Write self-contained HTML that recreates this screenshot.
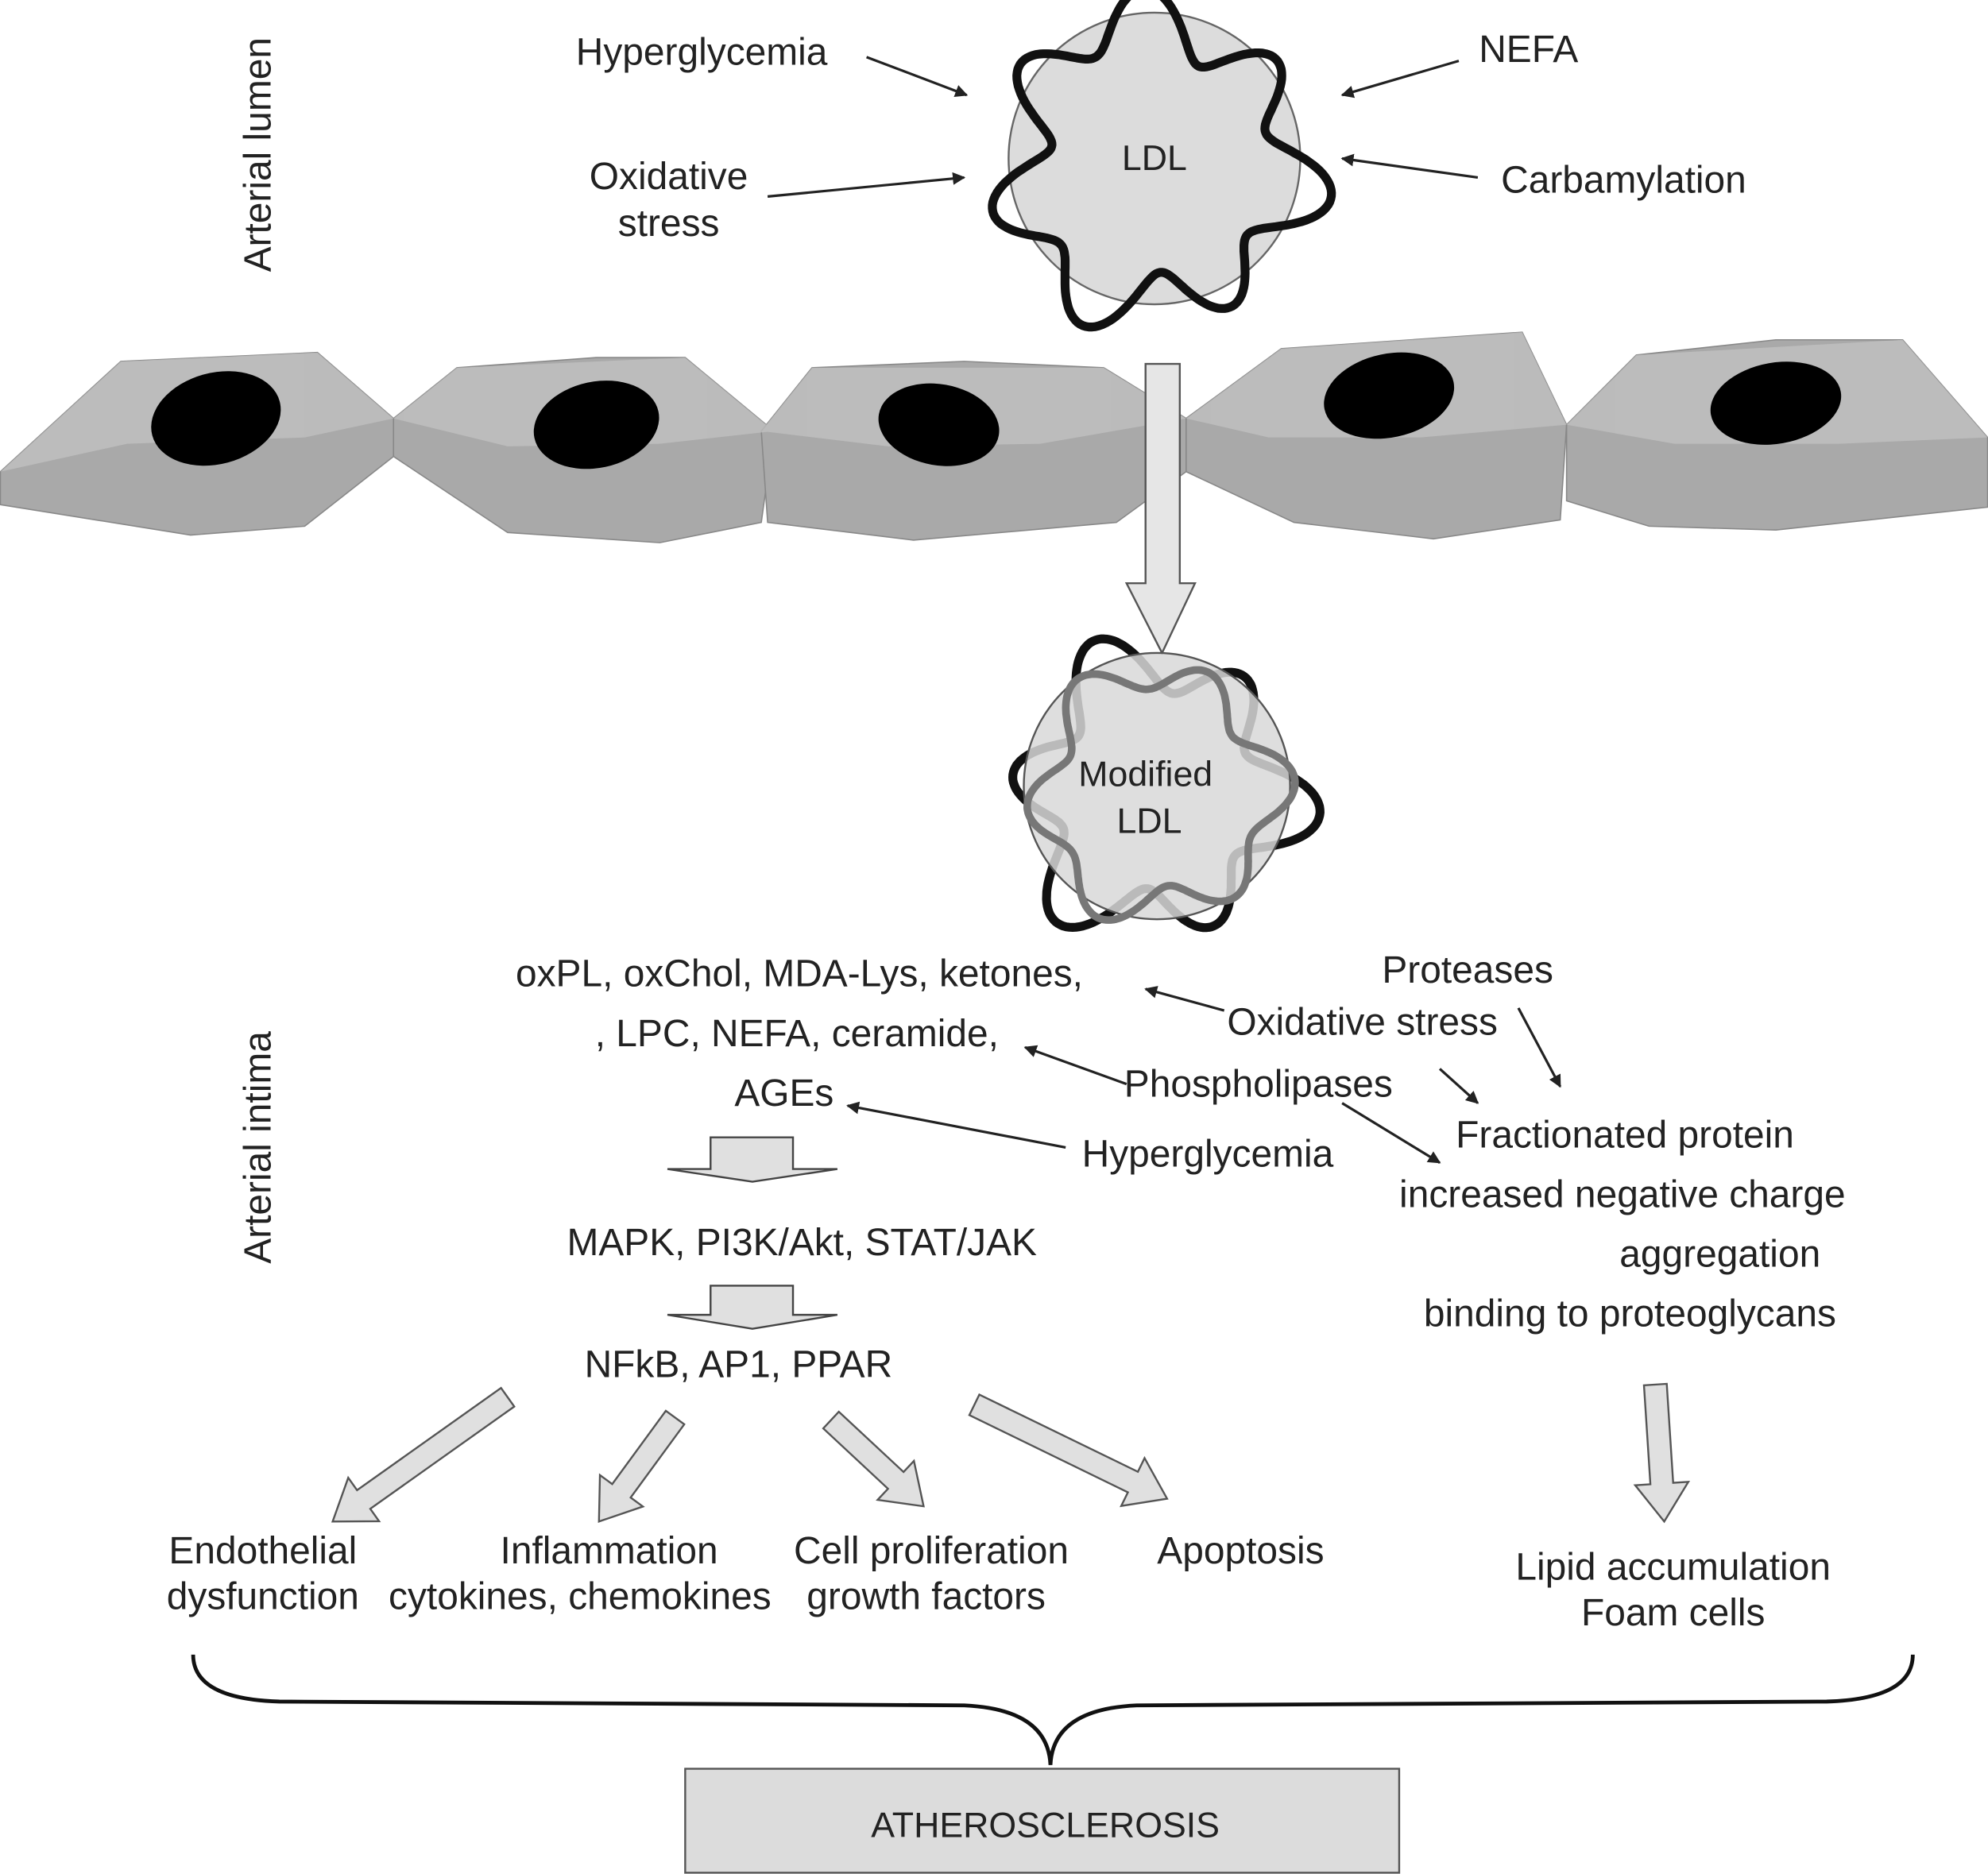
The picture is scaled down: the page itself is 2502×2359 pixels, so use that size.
<!DOCTYPE html>
<html><head><meta charset="utf-8"><style>
html,body{margin:0;padding:0;background:#fff}
svg{display:block}
text{font-family:"Liberation Sans",sans-serif;fill:#222}
</style></head><body>
<svg id="s" width="2502" height="2359" viewBox="0 0 1567 1478" xmlns="http://www.w3.org/2000/svg">
<defs>
<marker id="ah" markerWidth="10" markerHeight="10" refX="9" refY="5" orient="auto" markerUnits="userSpaceOnUse"><path d="M0,0 L10,5 L0,10 z" fill="#222"/></marker>
</defs>
<text x="0" y="0" font-size="30" transform="translate(213,122) rotate(-90)" text-anchor="middle">Arterial lumen</text>
<text x="0" y="0" font-size="30" transform="translate(213,905) rotate(-90)" text-anchor="middle">Arterial intima</text>

<circle cx="910" cy="125" r="115" fill="#dcdcdc" stroke="#666" stroke-width="1.5"/>
<path id="w1" fill="none" stroke="#111" stroke-width="7" stroke-linejoin="round"/>
<text x="910" y="134" font-size="28" text-anchor="middle">LDL</text>

<text x="553" y="51" font-size="30" text-anchor="middle">Hyperglycemia</text>
<line x1="683" y1="45" x2="762" y2="75" stroke="#222" stroke-width="2" marker-end="url(#ah)"/>
<text x="527" y="149" font-size="30" text-anchor="middle">Oxidative</text>
<text x="527" y="186" font-size="30" text-anchor="middle">stress</text>
<line x1="605" y1="155" x2="760" y2="140" stroke="#222" stroke-width="2" marker-end="url(#ah)"/>
<text x="1205" y="49" font-size="30" text-anchor="middle">NEFA</text>
<line x1="1150" y1="48" x2="1058" y2="75" stroke="#222" stroke-width="2" marker-end="url(#ah)"/>
<text x="1280" y="152" font-size="30" text-anchor="middle">Carbamylation</text>
<line x1="1165" y1="140" x2="1058" y2="125" stroke="#222" stroke-width="2" marker-end="url(#ah)"/>

<g fill="#a9a9a9" stroke="#888" stroke-width="1">
<polygon points="0,372 95,285 250,278 310,330 310,360 240,415 150,422 0,398"/>
<polygon points="310,330 360,290 470,282 540,282 610,340 600,412 520,428 400,420 310,360"/>
<polygon points="600,340 640,290 760,285 870,290 935,330 935,372 880,412 720,426 605,412"/>
<polygon points="935,330 1010,275 1200,262 1235,335 1230,410 1130,425 1020,412 935,372"/>
<polygon points="1235,335 1290,280 1400,268 1500,268 1567,345 1567,400 1400,418 1300,415 1235,395"/>
</g>
<g fill="#c4c4c4" opacity="0.7">
<polygon points="0,372 95,285 250,278 310,330 240,345 100,350"/>
<polygon points="310,330 360,290 540,282 610,340 520,350 400,352"/>
<polygon points="600,340 640,290 870,290 935,330 820,350 700,352"/>
<polygon points="935,330 1010,275 1200,262 1235,335 1120,345 1000,345"/>
<polygon points="1235,335 1290,280 1500,268 1567,345 1450,350 1320,350"/>
</g>
<g fill="#000">
<ellipse cx="170" cy="330" rx="52" ry="36" transform="rotate(-15 170 330)"/>
<ellipse cx="470" cy="335" rx="50" ry="34" transform="rotate(-12 470 335)"/>
<ellipse cx="740" cy="335" rx="48" ry="32" transform="rotate(10 740 335)"/>
<ellipse cx="1095" cy="312" rx="52" ry="33" transform="rotate(-12 1095 312)"/>
<ellipse cx="1400" cy="318" rx="52" ry="32" transform="rotate(-10 1400 318)"/>
</g>

<polygon points="903,287 930,287 930,460 942,460 916,515 888,460 903,460" fill="#e6e6e6" stroke="#555" stroke-width="1.5"/>

<path id="w2b" fill="none" stroke="#111" stroke-width="7" stroke-linejoin="round"/>
<circle cx="912" cy="620" r="105" fill="#d8d8d8" fill-opacity="0.85" stroke="#555" stroke-width="1.5"/>
<path id="w2" fill="none" stroke="#777" stroke-width="6" stroke-linejoin="round"/>
<text x="903" y="620" font-size="28" text-anchor="middle">Modified</text>
<text x="906" y="657" font-size="28" text-anchor="middle">LDL</text>

<g font-size="30">
<text x="630" y="778" text-anchor="middle">oxPL,  oxChol, MDA-Lys, ketones,</text>
<text x="628" y="825" text-anchor="middle">, LPC, NEFA, ceramide,</text>
<text x="618" y="872" text-anchor="middle">AGEs</text>
<text x="632" y="990" text-anchor="middle">MAPK,  PI3K/Akt, STAT/JAK</text>
<text x="582" y="1086" text-anchor="middle">NFkB,  AP1, PPAR</text>
<text x="1157" y="775" text-anchor="middle">Proteases</text>
<text x="1074" y="816" text-anchor="middle">Oxidative stress</text>
<text x="992" y="865" text-anchor="middle">Phospholipases</text>
<text x="952" y="920" text-anchor="middle">Hyperglycemia</text>
<text x="1281" y="905" text-anchor="middle">Fractionated protein</text>
<text x="1279" y="952" text-anchor="middle">increased negative charge</text>
<text x="1356" y="999" text-anchor="middle">aggregation</text>
<text x="1285" y="1046" text-anchor="middle">binding to proteoglycans</text>
<text x="207" y="1233" text-anchor="middle">Endothelial</text>
<text x="207" y="1269" text-anchor="middle">dysfunction</text>
<text x="480" y="1233" text-anchor="middle">Inflammation</text>
<text x="457" y="1269" text-anchor="middle">cytokines, chemokines</text>
<text x="734" y="1233" text-anchor="middle">Cell proliferation</text>
<text x="730" y="1269" text-anchor="middle">growth factors</text>
<text x="978" y="1233" text-anchor="middle">Apoptosis</text>
<text x="1319" y="1246" text-anchor="middle">Lipid accumulation</text>
<text x="1319" y="1282" text-anchor="middle">Foam cells</text>
</g>
<g stroke="#222" stroke-width="2" marker-end="url(#ah)">
<line x1="965" y1="797" x2="903" y2="780"/>
<line x1="888" y1="855" x2="808" y2="826"/>
<line x1="840" y1="905" x2="668" y2="872"/>
<line x1="1197" y1="795" x2="1230" y2="857"/>
<line x1="1135" y1="843" x2="1165" y2="870"/>
<line x1="1058" y1="870" x2="1135" y2="917"/>
</g>

<polygon points="560,897 625,897 625,922 660,922 593,932 526,922 560,922" fill="#e0e0e0" stroke="#444" stroke-width="1.5"/>
<polygon points="560,1014 625,1014 625,1037 660,1037 593,1048 526,1037 560,1037" fill="#e0e0e0" stroke="#444" stroke-width="1.5"/>

<g id="arrs" fill="#e0e0e0" stroke="#555" stroke-width="1.5"></g>

<path d="M152,1305 Q152,1340 220,1342 L760,1345 Q826,1348 828,1392 Q830,1348 896,1345 L1440,1342 Q1508,1340 1508,1305" fill="none" stroke="#111" stroke-width="3"/>
<rect x="540" y="1395" width="563" height="82" fill="#dcdcdc" stroke="#555" stroke-width="1.5"/>
<text x="824" y="1449" font-size="28" text-anchor="middle">ATHEROSCLEROSIS</text>
</svg>
<script>
function wavy(cx,cy,R,A,n,ph){var d="";for(var i=0;i<=360;i++){var t=i/360*2*Math.PI;var r=R+A*Math.sin(n*t+ph)+A*0.35*Math.sin(3*t+1);var x=cx+r*Math.cos(t),y=cy+r*Math.sin(t);d+=(i?"L":"M")+x.toFixed(1)+","+y.toFixed(1);}return d+"Z";}
document.getElementById("w1").setAttribute("d",wavy(910,130,112,22,7,0.3));
document.getElementById("w2b").setAttribute("d",wavy(912,625,100,22,6,0.8));
document.getElementById("w2").setAttribute("d",wavy(912,625,92,14,6,2.2));
function arr(x1,y1,x2,y2){var dx=x2-x1,dy=y2-y1,L=Math.hypot(dx,dy),a=Math.atan2(dy,dx)*180/Math.PI;var h=30,s=9,w=21;
var p=[[0,-s],[L-h,-s],[L-h,-w],[L,0],[L-h,w],[L-h,s],[0,s]].map(function(q){return q.join(",")}).join(" ");
var e=document.createElementNS("http://www.w3.org/2000/svg","polygon");e.setAttribute("points",p);e.setAttribute("transform","translate("+x1+","+y1+") rotate("+a+")");document.getElementById("arrs").appendChild(e);}
arr(400,1102,262,1200);arr(532,1118,472,1200);arr(655,1120,728,1188);arr(768,1108,920,1182);arr(1305,1092,1312,1200);
</script>
</body></html>
